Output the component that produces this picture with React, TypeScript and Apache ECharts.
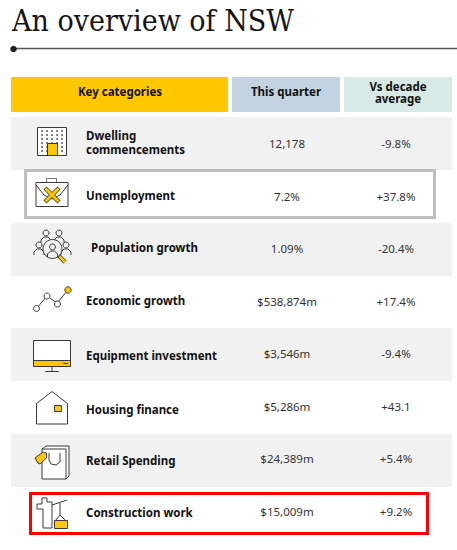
import React, { useEffect, useRef } from "react";
import * as echarts from "echarts";

const title = "An overview of NSW";
const headers = ["Key categories", "This quarter", "Vs decade", "average"];
const categories = ["Dwelling\ncommencements", "Unemployment", "Population growth", "Economic growth", "Equipment investment", "Housing finance", "Retail Spending", "Construction work"];
const quarter = ["12,178", "7.2%", "1.09%", "$538,874m", "$3,546m", "$5,286m", "$24,389m", "$15,009m"];
const versus = ["-9.8%", "+37.8%", "-20.4%", "+17.4%", "-9.4%", "+43.1", "+5.4%", "+9.2%"];
const labelY = [142, 195, 247, 300, 355, 409, 460, 512];
const valueY = [143, 196, 248, 301, 353.5, 406, 458.5, 511.5];
const labelX = [86, 86, 91, 86, 86, 86, 86, 86];

const INK = "#3a3a3a";
const GOLD = "#ffc800";
const sans = '"Noto Sans", sans-serif';

const ln = (x1: number, y1: number, x2: number, y2: number, w = 1, c = INK) => ({
  type: "line", shape: { x1, y1, x2, y2 }, style: { stroke: c, lineWidth: w },
});
const box = (x: number, y: number, width: number, height: number, fill: string, stroke?: string, w = 1) => ({
  type: "rect", shape: { x, y, width, height }, style: { fill, stroke: stroke ?? null, lineWidth: w },
});
const circ = (cx: number, cy: number, r: number, fill = "none", stroke: string | null = INK, w = 1) => ({
  type: "circle", shape: { cx, cy, r }, style: { fill, stroke, lineWidth: w },
});
const poly = (points: number[][], fill = "none", stroke: string | null = INK, w = 1) => ({
  type: "polygon", shape: { points }, style: { fill, stroke, lineWidth: w },
});
const pl = (points: number[][], w = 1, c = INK) => ({
  type: "polyline", shape: { points }, style: { fill: "none", stroke: c, lineWidth: w },
});
const txt = (x: number, y: number, text: string, font: string, fill: string, align = "center", lineHeight = 14) => ({
  type: "text", x, y, style: { text, font, fill, align, verticalAlign: "middle", lineHeight },
});

const person = (x: number, y: number, fill = "none") => [
  circ(x, y, 3, fill),
  pl([[x - 5, y + 10], [x - 5, y + 7], [x - 2, y + 4], [x + 2, y + 4], [x + 5, y + 7], [x + 5, y + 10]]),
];

function icons(): any[] {
  const out: any[] = [];
  // building
  out.push(box(37.5, 127.5, 29, 28, "#fff", INK));
  for (const x of [42, 47, 52, 57, 62]) for (const y of [131, 135, 139, 143, 147, 151]) {
    out.push(box(x - 0.7, y - 0.7, 1.5, 1.5, "#222"));
  }
  out.push(box(47.5, 143.5, 10, 12, GOLD, INK));
  // briefcase
  out.push(box(46.5, 178.5, 10, 5, "#fff", "#777", 1));
  out.push(box(36, 182.5, 32, 24, "#fff", INK));
  out.push(pl([[36, 185], [44, 195], [52, 199], [60, 195], [68, 185]]));
  out.push(ln(45, 188, 59, 202, 4.5, "#3a3a3a"), ln(59, 188, 45, 202, 4.5, "#3a3a3a"));
  out.push(ln(45.5, 188.5, 58.5, 201.5, 3, GOLD), ln(58.5, 188.5, 45.5, 201.5, 3, GOLD));
  // population
  out.push(...person(46, 233), ...person(59, 233), ...person(39, 245), ...person(66, 245));
  out.push(circ(52.5, 249, 9.5, "#f2f2f2"));
  out.push(...person(52.5, 247));
  out.push(ln(59, 256, 65, 262, 4, "#3a3a3a"), ln(59.5, 256.5, 65, 262, 2.5, GOLD));
  // economic growth
  out.push(pl([[37, 308], [47, 296], [57, 303], [68, 290]]));
  out.push(circ(36.5, 308.5, 3, "#fff"), circ(47, 296, 3, "#fff"), circ(57.5, 304, 3, "#fff"), circ(68, 290, 3.2, GOLD));
  // monitor
  out.push(box(33.5, 340.5, 37, 26, "#fff", INK));
  out.push(box(33.5, 360.5, 37, 6, GOLD, INK));
  out.push(ln(63, 363.5, 68, 363.5, 1));
  out.push(ln(52, 367, 52, 371), ln(45, 371.5, 59, 371.5));
  // house
  out.push(poly([[36.5, 403.5], [52, 391.5], [67.5, 403.5], [67.5, 424], [36.5, 424]], "#fff"));
  out.push(box(54.5, 405.5, 7, 6, GOLD, INK));
  // retail
  out.push(poly([[46, 446], [69, 446], [69, 476], [66, 479], [42, 479], [42, 449]], "#fff"));
  out.push(pl([[42, 449], [66, 449], [66, 479]]));
  out.push(pl([[49, 453], [49, 460], [51, 464], [56, 465], [60, 462], [60, 453]]));
  out.push(poly([[35, 458], [43, 452], [46.5, 453], [46.5, 458], [40, 464], [38, 463]], GOLD));
  // construction
  out.push(poly([[42, 498], [47, 498], [47, 502], [52, 502], [52, 528], [43, 528], [43, 509], [37, 509], [37, 504], [42, 504]], "#fff"));
  out.push(ln(52, 505, 67, 500));
  out.push(ln(60, 503, 60, 515));
  out.push(pl([[55, 521], [60, 515], [66, 521]]));
  out.push(box(54.5, 520.5, 13, 8, GOLD, INK));
  return out;
}

function buildGraphic(): any[] {
  const els: any[] = [];
  els.push({ type: "text", x: 12, y: 20, style: { text: title, font: '400 30px "DejaVu Serif Condensed", "DejaVu Serif", serif', fill: "#141414", verticalAlign: "middle" } });
  els.push(ln(13, 48.5, 457, 48.5, 1.3, "#555"), circ(13.5, 49, 3.3, "#222", null));
  els.push(box(11, 77, 217, 35, GOLD), box(232, 77, 108, 35, "#c3d2e0"), box(344, 77, 108, 35, "#d8eae6"));
  const hf = '700 11.5px ' + sans;
  els.push(txt(120, 91.5, headers[0], hf, "#111"), txt(286, 91, headers[1], hf, "#111"));
  els.push(txt(398, 86.5, headers[2], hf, "#111", "center", 11), txt(398, 98, headers[3], hf, "#111", "center", 11));
  for (const [y, h] of [[117, 53], [223, 53], [328, 53], [434, 53]]) els.push(box(11, y, 441, h, "#f1f1f1"));
  els.push(box(25.5, 170.5, 409, 47, "#fff", "#bfbfbf", 3));
  els.push(box(30.5, 493.5, 397, 40, "#fff", "#ff0000", 3));
  els.push(...icons());
  categories.forEach((c, i) => {
    els.push(txt(labelX[i], labelY[i], c, '700 11.5px ' + sans, "#111", "left", 14));
    els.push(txt(287, valueY[i], quarter[i], '400 11.5px ' + sans, "#333"));
    els.push(txt(396, valueY[i], versus[i], '400 11.5px ' + sans, "#333"));
  });
  return els;
}

export default function App() {
  const ref = useRef<HTMLDivElement>(null);
  useEffect(() => {
    const chart = echarts.init(ref.current!, null, { renderer: "svg" });
    chart.setOption({ animation: false, backgroundColor: "#fff", graphic: { elements: buildGraphic() } });
    return () => chart.dispose();
  }, []);
  return <div ref={ref} style={{ position: "absolute", left: 0, top: 0, width: 457, height: 550 }} />;
}
